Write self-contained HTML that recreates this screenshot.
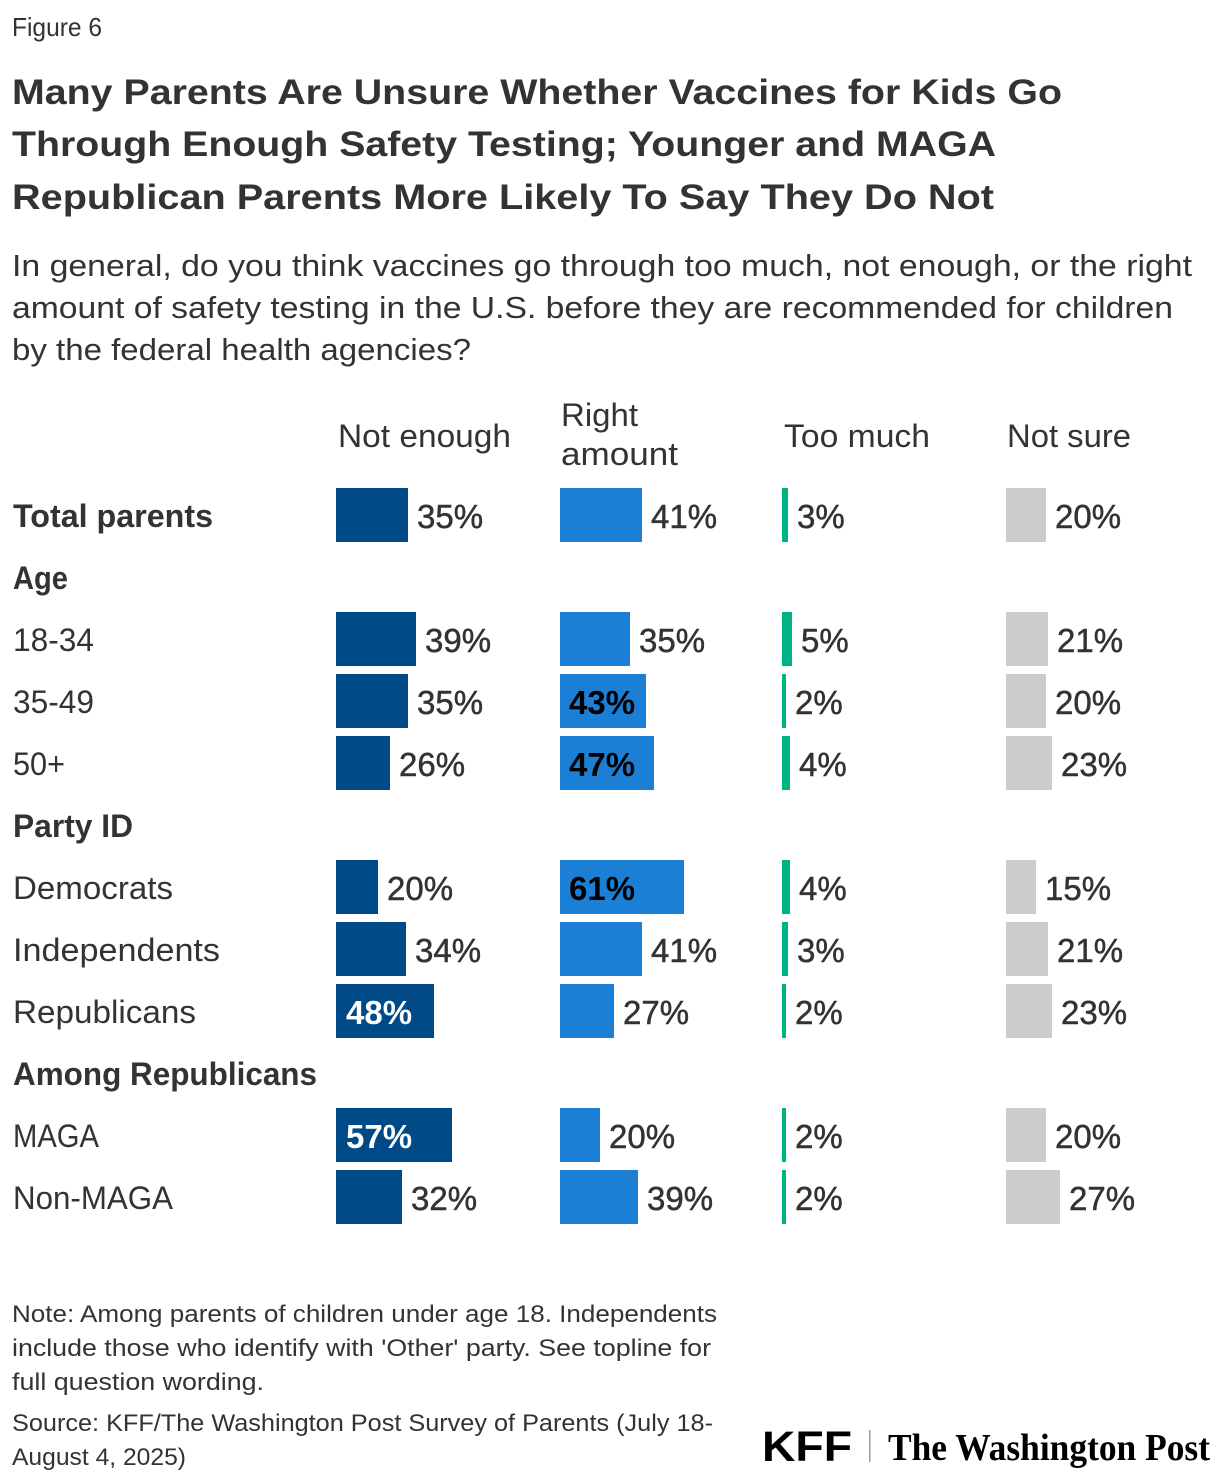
<!DOCTYPE html>
<html>
<head>
<meta charset="utf-8">
<style>
html,body{margin:0;padding:0;background:#fff;}
svg{display:block;}
text{font-family:"Liberation Sans",Arial,sans-serif;fill:#333;}
.b{font-weight:bold;}
.v{font-size:33px;stroke:#333;stroke-width:0.5px;}
.vi{font-size:33px;font-weight:bold;}
</style>
</head>
<body>
<svg width="1220" height="1484" viewBox="0 0 1220 1484" xmlns="http://www.w3.org/2000/svg">
<rect width="1220" height="1484" fill="#fff"/>

<text x="12" y="36" font-size="26" textLength="90" lengthAdjust="spacingAndGlyphs">Figure 6</text>

<text class="b" x="12" y="104" font-size="35" textLength="1050" lengthAdjust="spacingAndGlyphs">Many Parents Are Unsure Whether Vaccines for Kids Go</text>
<text class="b" x="12" y="156" font-size="35" textLength="984" lengthAdjust="spacingAndGlyphs">Through Enough Safety Testing; Younger and MAGA</text>
<text class="b" x="12" y="209" font-size="35" textLength="982" lengthAdjust="spacingAndGlyphs">Republican Parents More Likely To Say They Do Not</text>

<text x="12" y="276" font-size="31" textLength="1180" lengthAdjust="spacingAndGlyphs">In general, do you think vaccines go through too much, not enough, or the right</text>
<text x="12" y="318" font-size="31" textLength="1161" lengthAdjust="spacingAndGlyphs">amount of safety testing in the U.S. before they are recommended for children</text>
<text x="12" y="360" font-size="31" textLength="459" lengthAdjust="spacingAndGlyphs">by the federal health agencies?</text>

<!-- column headers -->
<text x="338" y="447" font-size="32" textLength="173" lengthAdjust="spacingAndGlyphs">Not enough</text>
<text x="561" y="426" font-size="32" textLength="77" lengthAdjust="spacingAndGlyphs">Right</text>
<text x="561" y="465" font-size="32" textLength="117" lengthAdjust="spacingAndGlyphs">amount</text>
<text x="784" y="447" font-size="32" textLength="146" lengthAdjust="spacingAndGlyphs">Too much</text>
<text x="1007" y="447" font-size="32" textLength="124" lengthAdjust="spacingAndGlyphs">Not sure</text>

<!-- row labels -->
<text class="b" x="13" y="527" font-size="32" textLength="200" lengthAdjust="spacingAndGlyphs">Total parents</text>
<text class="b" x="13" y="589" font-size="32" textLength="55" lengthAdjust="spacingAndGlyphs">Age</text>
<text x="13" y="651" font-size="32" textLength="81" lengthAdjust="spacingAndGlyphs">18-34</text>
<text x="13" y="713" font-size="32" textLength="81" lengthAdjust="spacingAndGlyphs">35-49</text>
<text x="13" y="775" font-size="32" textLength="52" lengthAdjust="spacingAndGlyphs">50+</text>
<text class="b" x="13" y="837" font-size="32" textLength="120" lengthAdjust="spacingAndGlyphs">Party ID</text>
<text x="13" y="899" font-size="32" textLength="160" lengthAdjust="spacingAndGlyphs">Democrats</text>
<text x="13" y="961" font-size="32" textLength="207" lengthAdjust="spacingAndGlyphs">Independents</text>
<text x="13" y="1023" font-size="32" textLength="183" lengthAdjust="spacingAndGlyphs">Republicans</text>
<text class="b" x="13" y="1085" font-size="32" textLength="304" lengthAdjust="spacingAndGlyphs">Among Republicans</text>
<text x="13" y="1147" font-size="32" textLength="86" lengthAdjust="spacingAndGlyphs">MAGA</text>
<text x="13" y="1209" font-size="32" textLength="160" lengthAdjust="spacingAndGlyphs">Non-MAGA</text>

<!-- Not enough bars -->
<g fill="#004a87">
<rect x="336" y="488" width="72" height="54"/>
<rect x="336" y="612" width="80" height="54"/>
<rect x="336" y="674" width="72" height="54"/>
<rect x="336" y="736" width="54" height="54"/>
<rect x="336" y="860" width="42" height="54"/>
<rect x="336" y="922" width="70" height="54"/>
<rect x="336" y="984" width="98" height="54"/>
<rect x="336" y="1108" width="116" height="54"/>
<rect x="336" y="1170" width="66" height="54"/>
</g>
<text class="v" x="417" y="528">35%</text>
<text class="v" x="425" y="652">39%</text>
<text class="v" x="417" y="714">35%</text>
<text class="v" x="399" y="776">26%</text>
<text class="v" x="387" y="900">20%</text>
<text class="v" x="415" y="962">34%</text>
<text class="vi" x="346" y="1024" style="fill:#fff">48%</text>
<text class="vi" x="346" y="1148" style="fill:#fff">57%</text>
<text class="v" x="411" y="1210">32%</text>

<!-- Right amount bars -->
<g fill="#1c7fd6">
<rect x="560" y="488" width="82" height="54"/>
<rect x="560" y="612" width="70" height="54"/>
<rect x="560" y="674" width="86" height="54"/>
<rect x="560" y="736" width="94" height="54"/>
<rect x="560" y="860" width="124" height="54"/>
<rect x="560" y="922" width="82" height="54"/>
<rect x="560" y="984" width="54" height="54"/>
<rect x="560" y="1108" width="40" height="54"/>
<rect x="560" y="1170" width="78" height="54"/>
</g>
<text class="v" x="651" y="528">41%</text>
<text class="v" x="639" y="652">35%</text>
<text class="vi" x="569" y="714" style="fill:#000">43%</text>
<text class="vi" x="569" y="776" style="fill:#000">47%</text>
<text class="vi" x="569" y="900" style="fill:#000">61%</text>
<text class="v" x="651" y="962">41%</text>
<text class="v" x="623" y="1024">27%</text>
<text class="v" x="609" y="1148">20%</text>
<text class="v" x="647" y="1210">39%</text>

<!-- Too much bars -->
<g fill="#00b386">
<rect x="782" y="488" width="6" height="54"/>
<rect x="782" y="612" width="10" height="54"/>
<rect x="782" y="674" width="4" height="54"/>
<rect x="782" y="736" width="8" height="54"/>
<rect x="782" y="860" width="8" height="54"/>
<rect x="782" y="922" width="6" height="54"/>
<rect x="782" y="984" width="4" height="54"/>
<rect x="782" y="1108" width="4" height="54"/>
<rect x="782" y="1170" width="4" height="54"/>
</g>
<text class="v" x="797" y="528">3%</text>
<text class="v" x="801" y="652">5%</text>
<text class="v" x="795" y="714">2%</text>
<text class="v" x="799" y="776">4%</text>
<text class="v" x="799" y="900">4%</text>
<text class="v" x="797" y="962">3%</text>
<text class="v" x="795" y="1024">2%</text>
<text class="v" x="795" y="1148">2%</text>
<text class="v" x="795" y="1210">2%</text>

<!-- Not sure bars -->
<g fill="#cccccc">
<rect x="1006" y="488" width="40" height="54"/>
<rect x="1006" y="612" width="42" height="54"/>
<rect x="1006" y="674" width="40" height="54"/>
<rect x="1006" y="736" width="46" height="54"/>
<rect x="1006" y="860" width="30" height="54"/>
<rect x="1006" y="922" width="42" height="54"/>
<rect x="1006" y="984" width="46" height="54"/>
<rect x="1006" y="1108" width="40" height="54"/>
<rect x="1006" y="1170" width="54" height="54"/>
</g>
<text class="v" x="1055" y="528">20%</text>
<text class="v" x="1057" y="652">21%</text>
<text class="v" x="1055" y="714">20%</text>
<text class="v" x="1061" y="776">23%</text>
<text class="v" x="1045" y="900">15%</text>
<text class="v" x="1057" y="962">21%</text>
<text class="v" x="1061" y="1024">23%</text>
<text class="v" x="1055" y="1148">20%</text>
<text class="v" x="1069" y="1210">27%</text>

<!-- notes -->
<text x="12" y="1322" font-size="24" textLength="705" lengthAdjust="spacingAndGlyphs">Note: Among parents of children under age 18. Independents</text>
<text x="12" y="1356" font-size="24" textLength="699" lengthAdjust="spacingAndGlyphs">include those who identify with 'Other' party. See topline for</text>
<text x="12" y="1390" font-size="24" textLength="252" lengthAdjust="spacingAndGlyphs">full question wording.</text>
<text x="12" y="1431" font-size="24" textLength="701" lengthAdjust="spacingAndGlyphs">Source: KFF/The Washington Post Survey of Parents (July 18-</text>
<text x="12" y="1465" font-size="24" textLength="174" lengthAdjust="spacingAndGlyphs">August 4, 2025)</text>

<!-- logos -->
<text x="762" y="1461" font-size="43" font-weight="bold" style="fill:#000" textLength="90" lengthAdjust="spacingAndGlyphs">KFF</text>
<rect x="869" y="1430" width="1.5" height="32" fill="#999"/>
<text x="888" y="1460" font-size="38" font-weight="bold" style="fill:#000;font-family:'Liberation Serif',serif" textLength="322" lengthAdjust="spacingAndGlyphs">The Washington Post</text>
</svg>
</body>
</html>
